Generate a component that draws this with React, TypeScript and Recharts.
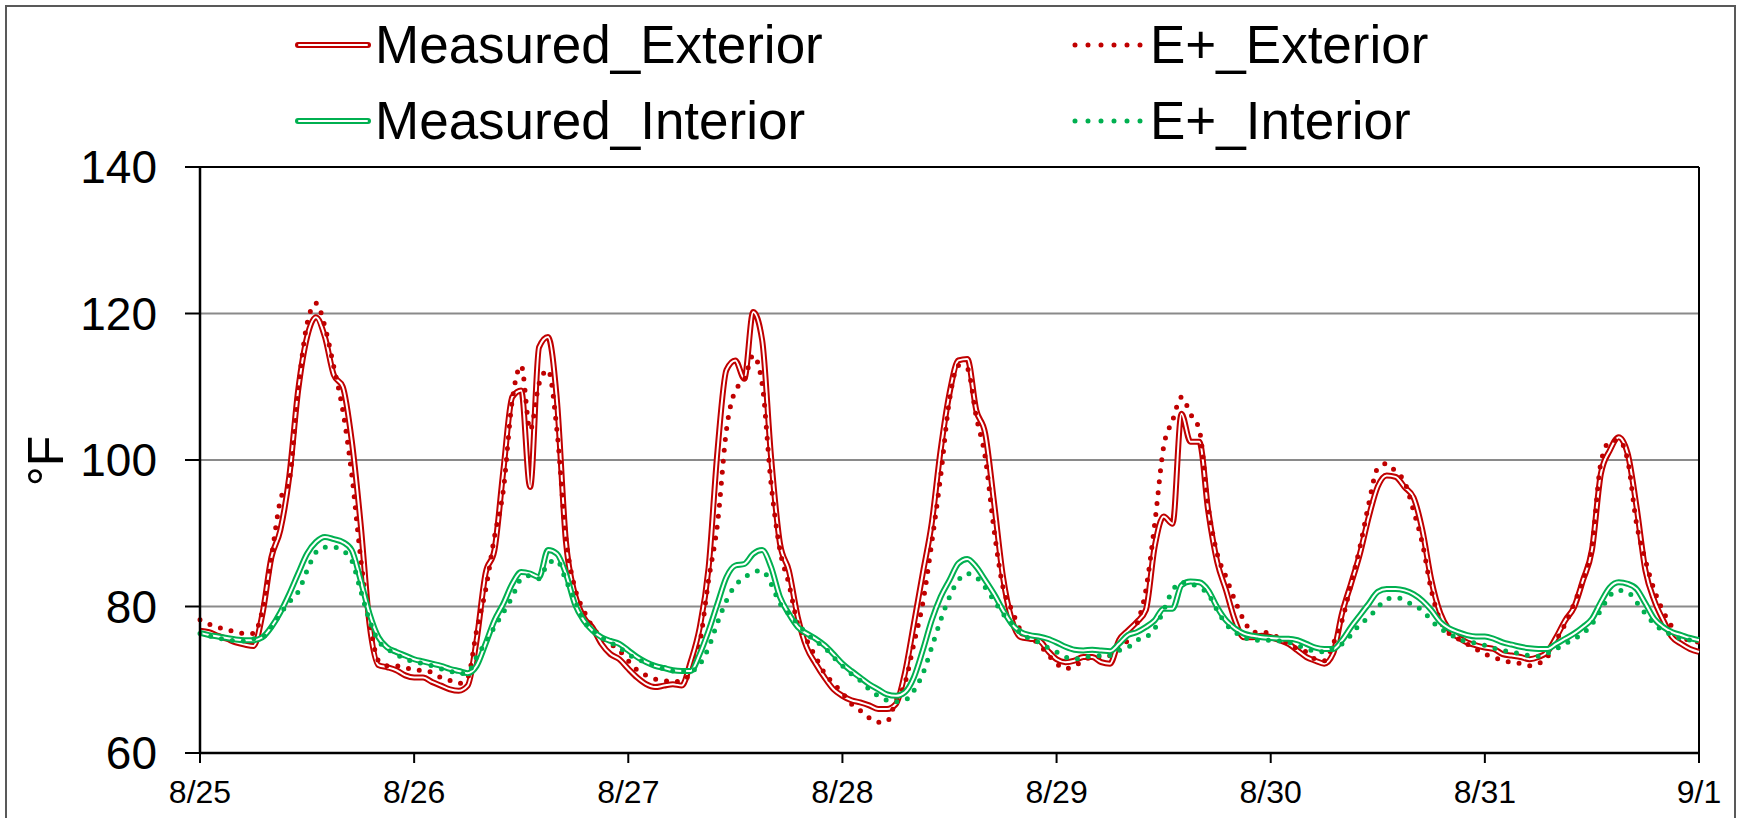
import React from 'react';
import { LineChart, Line, XAxis, YAxis, CartesianGrid, ReferenceLine } from 'recharts';

// hourly readings, 8/25 00:00 through 9/1 00:00 (169 points)
const measuredExterior = [
  76.7, 76.5, 76.0, 75.6, 75.1, 74.8, 74.6, 79.0, 86.7, 90.4,
  97.7, 109.5, 116.8, 119.5, 116.8, 111.6, 110.0, 102.7, 91.3, 77.6,
  72.0, 71.7, 71.3, 70.6, 70.3, 70.3, 69.7, 69.2, 68.7, 68.5,
  69.2, 75.4, 84.5, 87.7, 98.6, 108.6, 109.5, 96.3, 115.4, 116.8,
  108.2, 89.0, 81.7, 78.5, 77.1, 74.9, 73.5, 72.8, 71.5, 70.3,
  69.4, 69.0, 69.2, 69.4, 69.2, 72.5, 77.1, 85.3, 101.3, 112.3,
  113.6, 111.1, 120.2, 116.4, 100.4, 88.6, 84.9, 78.5, 74.4, 72.2,
  70.3, 68.7, 67.8, 67.2, 66.9, 66.5, 66.0, 66.0, 66.7, 70.9,
  77.6, 84.5, 91.3, 101.3, 109.1, 113.6, 113.8, 106.8, 103.6, 94.1,
  84.0, 78.1, 75.8, 75.6, 75.4, 74.0, 72.8, 72.4, 72.6, 73.1,
  73.1, 72.4, 72.2, 75.4, 76.7, 77.9, 79.5, 88.2, 92.3, 91.3,
  106.3, 102.5, 102.5, 93.0, 86.1, 82.2, 78.1, 75.8, 75.8, 76.0,
  75.8, 75.4, 74.9, 74.0, 73.1, 72.6, 72.2, 73.6, 79.1, 83.1,
  87.2, 92.3, 96.4, 97.9, 97.7, 96.3, 94.9, 90.4, 83.6, 79.1,
  76.8, 75.8, 75.1, 74.7, 74.4, 74.2, 73.5, 73.3, 73.1, 72.8,
  73.1, 73.8, 75.8, 78.1, 79.9, 83.6, 87.7, 98.1, 101.3, 103.1,
  100.9, 93.6, 84.9, 80.8, 78.1, 75.8, 74.9, 74.2, 73.8,
];

const eplusExterior = [
  78.2, 77.6, 77.2, 76.8, 76.6, 76.3, 76.3, 79.5, 86.7, 94.5,
  97.2, 109.5, 118.6, 121.4, 118.2, 112.7, 106.8, 98.1, 86.7, 78.0,
  72.6, 71.9, 71.9, 71.7, 71.3, 71.3, 71.0, 70.3, 69.9, 69.5,
  70.3, 76.7, 82.2, 89.5, 95.9, 108.2, 112.9, 104.1, 110.4, 112.3,
  104.1, 89.5, 82.6, 79.5, 77.2, 75.8, 74.9, 74.0, 72.6, 71.3,
  70.6, 70.1, 69.9, 69.7, 69.9, 71.0, 74.9, 83.6, 91.3, 104.1,
  109.5, 110.9, 114.3, 110.4, 96.8, 87.7, 83.1, 77.6, 75.4, 73.1,
  70.9, 69.5, 68.2, 66.7, 65.8, 64.8, 64.2, 64.3, 67.2, 69.5,
  74.9, 80.4, 88.6, 97.7, 108.2, 112.9, 112.5, 105.9, 100.4, 90.4,
  82.6, 79.5, 76.7, 75.8, 74.9, 73.5, 72.2, 71.5, 71.9, 72.6,
  73.1, 73.1, 73.3, 74.4, 75.4, 77.6, 82.2, 91.3, 101.8, 105.4,
  108.6, 106.3, 104.1, 93.6, 87.2, 84.0, 80.8, 78.1, 76.5, 76.5,
  76.3, 75.6, 74.9, 74.2, 73.8, 72.8, 72.6, 74.9, 78.1, 83.1,
  88.1, 94.1, 98.9, 99.5, 98.4, 97.0, 93.1, 88.6, 82.2, 78.1,
  76.3, 75.6, 74.9, 74.2, 73.5, 73.1, 72.6, 72.4, 72.2, 71.9,
  72.2, 73.1, 75.4, 77.6, 80.4, 83.6, 88.2, 99.6, 102.5, 102.7,
  100.0, 91.3, 86.3, 82.2, 79.3, 77.2, 75.8, 75.4, 75.1,
];

const measuredInterior = [
  76.4, 76.1, 75.9, 75.7, 75.5, 75.4, 75.4, 75.8, 77.2, 79.2,
  81.7, 84.5, 87.2, 88.8, 89.5, 89.2, 88.8, 87.7, 83.6, 79.0,
  75.8, 74.4, 73.8, 73.3, 72.8, 72.5, 72.2, 71.9, 71.5, 71.2,
  70.9, 71.9, 74.9, 78.1, 80.4, 83.1, 84.7, 84.5, 84.0, 87.7,
  87.2, 84.5, 80.4, 78.1, 76.7, 75.8, 75.3, 74.9, 74.0, 73.1,
  72.4, 71.9, 71.6, 71.3, 71.2, 71.2, 73.5, 76.7, 80.4, 84.0,
  85.6, 85.8, 87.2, 87.7, 85.4, 81.3, 79.0, 77.2, 76.3, 75.6,
  74.7, 73.5, 72.2, 71.2, 70.3, 69.4, 68.7, 68.0, 67.8, 68.3,
  70.3, 74.0, 78.1, 81.3, 83.6, 85.9, 86.5, 85.4, 83.6, 81.7,
  79.5, 77.6, 76.5, 76.1, 75.9, 75.6, 75.1, 74.5, 74.1, 74.0,
  74.1, 74.0, 73.9, 74.9, 76.1, 76.5, 77.2, 78.1, 79.7, 79.7,
  82.9, 83.4, 83.3, 82.2, 79.9, 78.1, 77.0, 76.3, 76.0, 75.8,
  75.7, 75.6, 75.6, 75.4, 74.9, 74.4, 74.2, 74.2, 75.4, 77.2,
  78.8, 80.4, 82.0, 82.4, 82.4, 82.2, 81.7, 80.8, 79.5, 77.9,
  77.0, 76.5, 76.1, 75.9, 75.9, 75.6, 75.1, 74.8, 74.5, 74.3,
  74.2, 74.2, 74.9, 75.6, 76.3, 77.2, 78.3, 80.6, 82.6, 83.3,
  83.1, 82.4, 80.4, 78.3, 77.2, 76.5, 76.1, 75.7, 75.4,
];

const eplusInterior = [
  76.3, 76.0, 75.7, 75.5, 75.3, 75.3, 75.6, 75.8, 77.2, 79.0,
  80.6, 82.0, 84.9, 87.4, 88.1, 88.1, 87.6, 86.3, 82.2, 78.1,
  75.3, 74.2, 73.5, 72.8, 72.5, 72.2, 71.9, 71.5, 71.2, 70.8,
  71.0, 73.1, 75.1, 77.2, 79.2, 81.3, 83.8, 84.2, 83.8, 85.9,
  86.3, 83.6, 80.8, 78.1, 76.7, 75.8, 75.1, 74.4, 73.5, 72.8,
  72.4, 71.9, 71.5, 71.2, 71.2, 71.2, 72.1, 74.4, 77.8, 80.8,
  82.9, 83.9, 84.7, 84.9, 83.1, 80.4, 79.0, 77.6, 76.3, 75.3,
  74.4, 73.1, 71.9, 70.8, 69.9, 68.7, 67.8, 67.2, 67.0, 67.2,
  68.5, 70.8, 74.4, 78.1, 81.3, 83.6, 84.5, 84.0, 82.6, 80.8,
  79.0, 77.6, 76.3, 75.6, 75.1, 74.4, 73.8, 73.1, 72.8, 73.1,
  73.2, 73.3, 73.3, 74.0, 74.4, 75.4, 75.8, 77.0, 79.5, 82.2,
  83.3, 83.1, 82.6, 81.7, 79.5, 77.6, 76.5, 75.8, 75.4, 75.4,
  75.4, 75.3, 75.1, 74.7, 74.2, 73.9, 73.8, 74.4, 74.9, 76.1,
  77.6, 78.5, 79.9, 81.0, 81.2, 80.9, 80.1, 79.5, 78.1, 77.0,
  76.3, 75.6, 75.2, 75.0, 74.7, 74.3, 74.0, 73.8, 73.5, 73.3,
  73.2, 73.6, 74.2, 74.9, 75.6, 76.3, 77.6, 79.5, 81.5, 82.2,
  82.0, 80.6, 79.0, 77.6, 76.7, 76.1, 75.6, 75.4, 75.3,
];

const dayTicks = [0, 24, 48, 72, 96, 120, 144, 168];
const dayLabels = ['8/25', '8/26', '8/27', '8/28', '8/29', '8/30', '8/31', '9/1'];
const yTicks = [60, 80, 100, 120, 140];

const RED = '#C00000';
const GREEN = '#00B050';
const FONT = "Arial, 'Liberation Sans', sans-serif";

const data = measuredExterior.map((v, i) => ({
  h: i,
  mExt: v,
  eExt: eplusExterior[i],
  mInt: measuredInterior[i],
  eInt: eplusInterior[i],
}));

const legendItems = [
  { name: 'Measured_Exterior', color: RED, dotted: false, col: 0, row: 0 },
  { name: 'E+_Exterior', color: RED, dotted: true, col: 1, row: 0 },
  { name: 'Measured_Interior', color: GREEN, dotted: false, col: 0, row: 1 },
  { name: 'E+_Interior', color: GREEN, dotted: true, col: 1, row: 1 },
];

const Overlay = () => {
  const colX = [298, 1073];
  const rowY = [45, 121];
  return (
    <svg width={1741} height={818} style={{ position: 'absolute', left: 0, top: 0, pointerEvents: 'none' }}>
      {legendItems.map((it) => {
        const x = colX[it.col];
        const y = rowY[it.row];
        return (
          <g key={it.name}>
            {it.dotted ? (
              <line x1={x + 2} y1={y} x2={x + 68} y2={y} stroke={it.color} strokeWidth={5}
                strokeDasharray="0 13" strokeLinecap="round" />
            ) : (
              <>
                <line x1={x} y1={y} x2={x + 70} y2={y} stroke={it.color} strokeWidth={6} strokeLinecap="round" />
                <line x1={x + 1} y1={y} x2={x + 69} y2={y} stroke="#fff" strokeWidth={2} strokeLinecap="round" />
              </>
            )}
            <text x={x + 77} y={y + 18} fontSize={53} fontFamily={FONT} fill="#000">{it.name}</text>
          </g>
        );
      })}
      <text x={63} y={461} transform="rotate(-90 63 461)" textAnchor="middle" fontSize={50}
        fontFamily={FONT} fill="#000">°F</text>
    </svg>
  );
};

const App = () => {
  return (
    <div style={{ position: 'absolute', left: 0, top: 0, width: 1741, height: 818, overflow: 'hidden', background: '#fff', fontFamily: FONT }}>
      <div style={{ position: 'absolute', left: 5, top: 5, width: 1727, height: 840, border: '2px solid #595959' }} />
      <LineChart
        width={1741}
        height={818}
        data={data}
        margin={{ top: 167, right: 42, bottom: 5, left: 80 }}
        style={{ position: 'absolute', left: 0, top: 0 }}
      >
        <CartesianGrid vertical={false} stroke="#8a8a8a" strokeWidth={1.8} />
        <XAxis
          dataKey="h"
          type="number"
          domain={[0, 168]}
          ticks={dayTicks}
          tickFormatter={(v: number) => dayLabels[dayTicks.indexOf(v)]}
          height={60}
          tickSize={10}
          tickMargin={17}
          axisLine={{ stroke: '#000', strokeWidth: 2.5 }}
          tickLine={{ stroke: '#000', strokeWidth: 2 }}
          tick={{ fontSize: 32, fill: '#000', fontFamily: FONT }}
          interval={0}
        />
        <YAxis
          domain={[60, 140]}
          ticks={yTicks}
          width={120}
          tickSize={15}
          tickMargin={28}
          axisLine={{ stroke: '#000', strokeWidth: 2.5 }}
          tickLine={{ stroke: '#000', strokeWidth: 2 }}
          tick={{ fontSize: 46, fill: '#000', fontFamily: FONT }}
          interval={0}
        />
        <ReferenceLine y={140} stroke="#000" strokeWidth={2} />
        <ReferenceLine x={168} stroke="#000" strokeWidth={2} />

        <Line type="monotone" dataKey="mExt" stroke={RED} strokeWidth={6} dot={false} activeDot={false} isAnimationActive={false} />
        <Line type="monotone" dataKey={(d: any) => d.mExt} name="mExtCore" stroke="#fff" strokeWidth={2} dot={false} activeDot={false} isAnimationActive={false} />
        <Line type="monotone" dataKey="eExt" stroke={RED} strokeWidth={5} strokeDasharray="0 11" strokeLinecap="round" dot={false} activeDot={false} isAnimationActive={false} />
        <Line type="monotone" dataKey="mInt" stroke={GREEN} strokeWidth={6} dot={false} activeDot={false} isAnimationActive={false} />
        <Line type="monotone" dataKey={(d: any) => d.mInt} name="mIntCore" stroke="#fff" strokeWidth={2} dot={false} activeDot={false} isAnimationActive={false} />
        <Line type="monotone" dataKey="eInt" stroke={GREEN} strokeWidth={5} strokeDasharray="0 11" strokeLinecap="round" dot={false} activeDot={false} isAnimationActive={false} />
      </LineChart>
      <Overlay />
    </div>
  );
};

export default App;
